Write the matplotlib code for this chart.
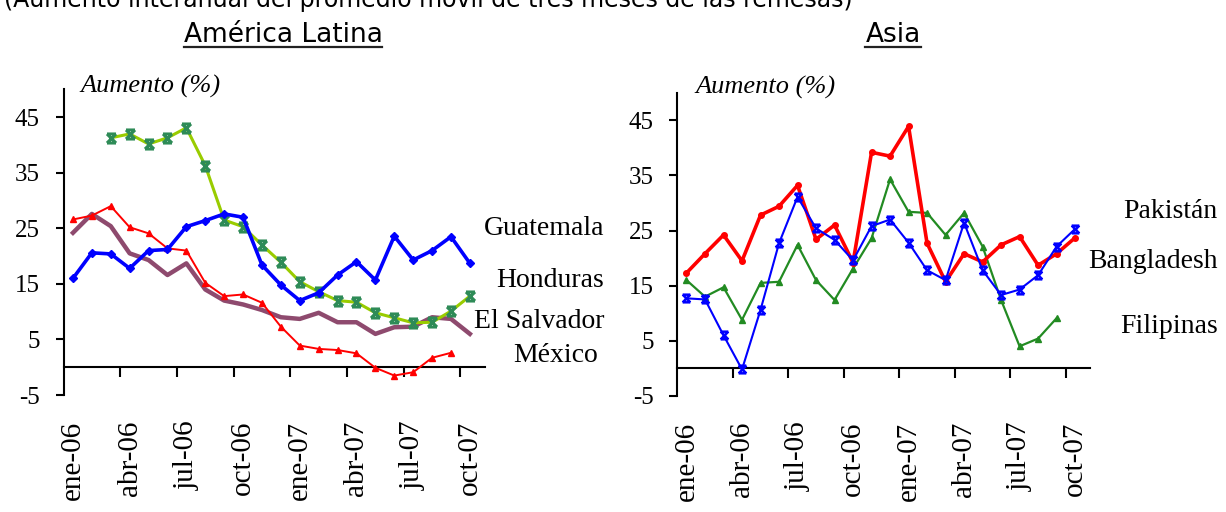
import matplotlib
matplotlib.use('Agg')
import matplotlib.pyplot as plt
from matplotlib.path import Path
from matplotlib.lines import Line2D
from matplotlib import font_manager
import numpy as np

nan = np.nan

# ---------------- data ----------------
months = ['ene-06', 'feb-06', 'mar-06', 'abr-06', 'may-06', 'jun-06', 'jul-06',
          'ago-06', 'sep-06', 'oct-06', 'nov-06', 'dic-06', 'ene-07', 'feb-07',
          'mar-07', 'abr-07', 'may-07', 'jun-07', 'jul-07', 'ago-07', 'sep-07',
          'oct-07']
tick_labels = ['ene-06', 'abr-06', 'jul-06', 'oct-06', 'ene-07', 'abr-07',
               'jul-07', 'oct-07']

# América Latina
guatemala = [16.0, 20.6, 20.4, 17.8, 21.0, 21.2, 25.3, 26.4, 27.6, 27.0, 18.4,
             14.8, 12.0, 13.4, 16.6, 19.0, 15.7, 23.6, 19.3, 21.0, 23.5, 18.7]
honduras = [nan, nan, 41.3, 42.0, 40.2, 41.3, 43.1, 36.3, 26.5, 25.3, 22.0,
            18.9, 15.4, 13.6, 12.0, 11.7, 9.8, 8.9, 8.0, 8.1, 10.1, 12.8]
el_salvador = [24.2, 27.6, 25.4, 20.5, 19.3, 16.6, 18.7, 14.0, 12.0, 11.3, 10.3,
               9.0, 8.7, 9.8, 8.1, 8.1, 6.0, 7.2, 7.3, 9.0, 8.7, 6.0]
mexico = [26.6, 27.3, 29.0, 25.2, 24.1, 21.4, 21.0, 15.2, 12.8, 13.1, 11.6,
          7.3, 3.9, 3.3, 3.1, 2.5, -0.1, -1.5, -0.9, 1.7, 2.6, nan]

# Asia
pakistan = [12.7, 12.5, 6.0, -0.2, 10.6, 22.7, 31.1, 25.4, 23.3, 19.6, 25.8,
            27.0, 22.8, 17.8, 16.0, 26.4, 17.8, 13.3, 14.3, 16.9, 22.1, 25.3]
bangladesh = [17.3, 20.8, 24.2, 19.5, 27.8, 29.4, 33.2, 23.4, 26.0, 19.2, 39.2,
              38.5, 43.9, 22.7, 15.7, 20.8, 19.3, 22.4, 23.9, 18.7, 20.8, 23.7]
filipinas = [16.0, 13.0, 14.7, 8.8, 15.5, 15.7, 22.4, 16.0, 12.4, 18.1, 23.6,
             34.3, 28.4, 28.2, 24.2, 28.2, 22.1, 12.4, 4.0, 5.4, 9.1, nan]

y_ticks = [-5, 5, 15, 25, 35, 45]

# ---------------- fonts ----------------
available = {f.name for f in font_manager.fontManager.ttflist}
if 'Liberation Sans Narrow' in available:
    sans_family = 'Liberation Sans Narrow'
    title_size = 25
    top_size = 24
else:
    sans_family = 'DejaVu Sans'
    title_size = 19
    top_size = 17
serif = 'Liberation Serif'

# hourglass-like X marker
hourglass = Path([(-1, 1), (1, 1), (-1, -1), (1, -1), (-1, 1), (1, -1), (1, 1), (-1, -1)],
                 [Path.MOVETO, Path.LINETO, Path.MOVETO, Path.LINETO,
                  Path.MOVETO, Path.LINETO, Path.MOVETO, Path.LINETO])

fig = plt.figure(figsize=(12.26, 5.12), dpi=100)
ax1 = fig.add_axes([0.0518, 0.2285, 0.3438, 0.5967])
ax2 = fig.add_axes([0.5524, 0.2268, 0.3366, 0.592])

x = np.arange(len(months))


def style_axes(ax):
    ax.set_xlim(-0.5, 21.8)
    ax.set_ylim(-5, 50)
    for s in ['top', 'right']:
        ax.spines[s].set_visible(False)
    ax.spines['bottom'].set_position(('data', 0))
    ax.spines['left'].set_linewidth(1.5)
    ax.spines['bottom'].set_linewidth(1.5)
    ax.set_yticks(y_ticks)
    ax.set_yticklabels([str(v) for v in y_ticks], fontfamily=serif, fontsize=18)
    ax.tick_params(axis='y', length=6, width=1.5, pad=11, direction='out')
    ax.set_xticks(np.arange(0, 22, 3))
    ax.set_xticklabels(tick_labels, rotation=90, fontfamily=serif, fontsize=21,
                       va='top', ha='center')
    ax.tick_params(axis='x', which='major', length=0, pad=38.5)
    ax.set_xticks(np.arange(2.5, 21, 3), minor=True)
    ax.tick_params(axis='x', which='minor', length=7.5, width=1.5, direction='out')
    ax.patch.set_visible(False)


style_axes(ax1)
style_axes(ax2)

# Left chart
ax1.plot(x, el_salvador, color='#8e4a6e', lw=3.2, zorder=2)
ax1.plot(x, mexico, color='#ff0000', lw=1.4, marker='^', ms=5, zorder=3)
ax1.plot(x, honduras, color='#99cc00', lw=2.2, marker=hourglass, ms=6.5,
         mec='#2e8b57', mfc='none', mew=2.2, zorder=3)
ax1.plot(x, guatemala, color='#0000ff', lw=2.6, marker='D', ms=4, zorder=4)

lab = dict(fontfamily=serif, fontsize=20, ha='right', va='baseline', clip_on=False)
ax1.text(28.1, 23.8, 'Guatemala', **lab)
ax1.text(28.1, 14.5, 'Honduras', **lab)
ax1.text(28.1, 7.0, 'El Salvador', **lab)
ax1.text(27.8, 0.95, 'México', **lab)

# Right chart
ax2.plot(x, filipinas, color='#228b22', lw=1.6, marker='^', ms=4.5, zorder=2)
ax2.plot(x, bangladesh, color='#ff0000', lw=2.6, marker='o', ms=4, zorder=3)
ax2.plot(x, pakistan, color='#0000ff', lw=1.5, marker=hourglass, ms=5.5,
         mec='#0000ff', mfc='none', mew=1.8, zorder=4)

ax2.text(28.7, 27.2, 'Pakistán', **lab)
ax2.text(28.7, 18.2, 'Bangladesh', **lab)
ax2.text(28.7, 6.35, 'Filipinas', **lab)

ylab = dict(fontfamily=serif, fontsize=19, style='italic', ha='left', va='baseline', clip_on=False)
ax1.text(0.41, 49.4, 'Aumento (%)', **ylab)
ax2.text(0.46, 49.8, 'Aumento (%)', **ylab)

# titles
W, H = 1226, 512
t_top = fig.text(428 / W, 1 - 6.7 / H,
                 '(Aumento interanual del promedio móvil de tres meses de las remesas)',
                 fontfamily=sans_family, fontsize=top_size, ha='center', va='baseline')
t1 = fig.text(283 / W, 1 - 41.7 / H, 'América Latina', fontfamily=sans_family,
              fontsize=title_size, ha='center', va='baseline')
t2 = fig.text(893 / W, 1 - 41.7 / H, 'Asia', fontfamily=sans_family,
              fontsize=title_size, ha='center', va='baseline')

fig.canvas.draw()
r = fig.canvas.get_renderer()
for t in (t1, t2):
    bb = t.get_window_extent(renderer=r)
    yline = 1 - 47 / H
    fig.add_artist(Line2D([bb.x0 / W, bb.x1 / W], [yline, yline], color='#222222',
                          lw=1.6, transform=fig.transFigure))

fig.savefig('out.png', dpi=100)
